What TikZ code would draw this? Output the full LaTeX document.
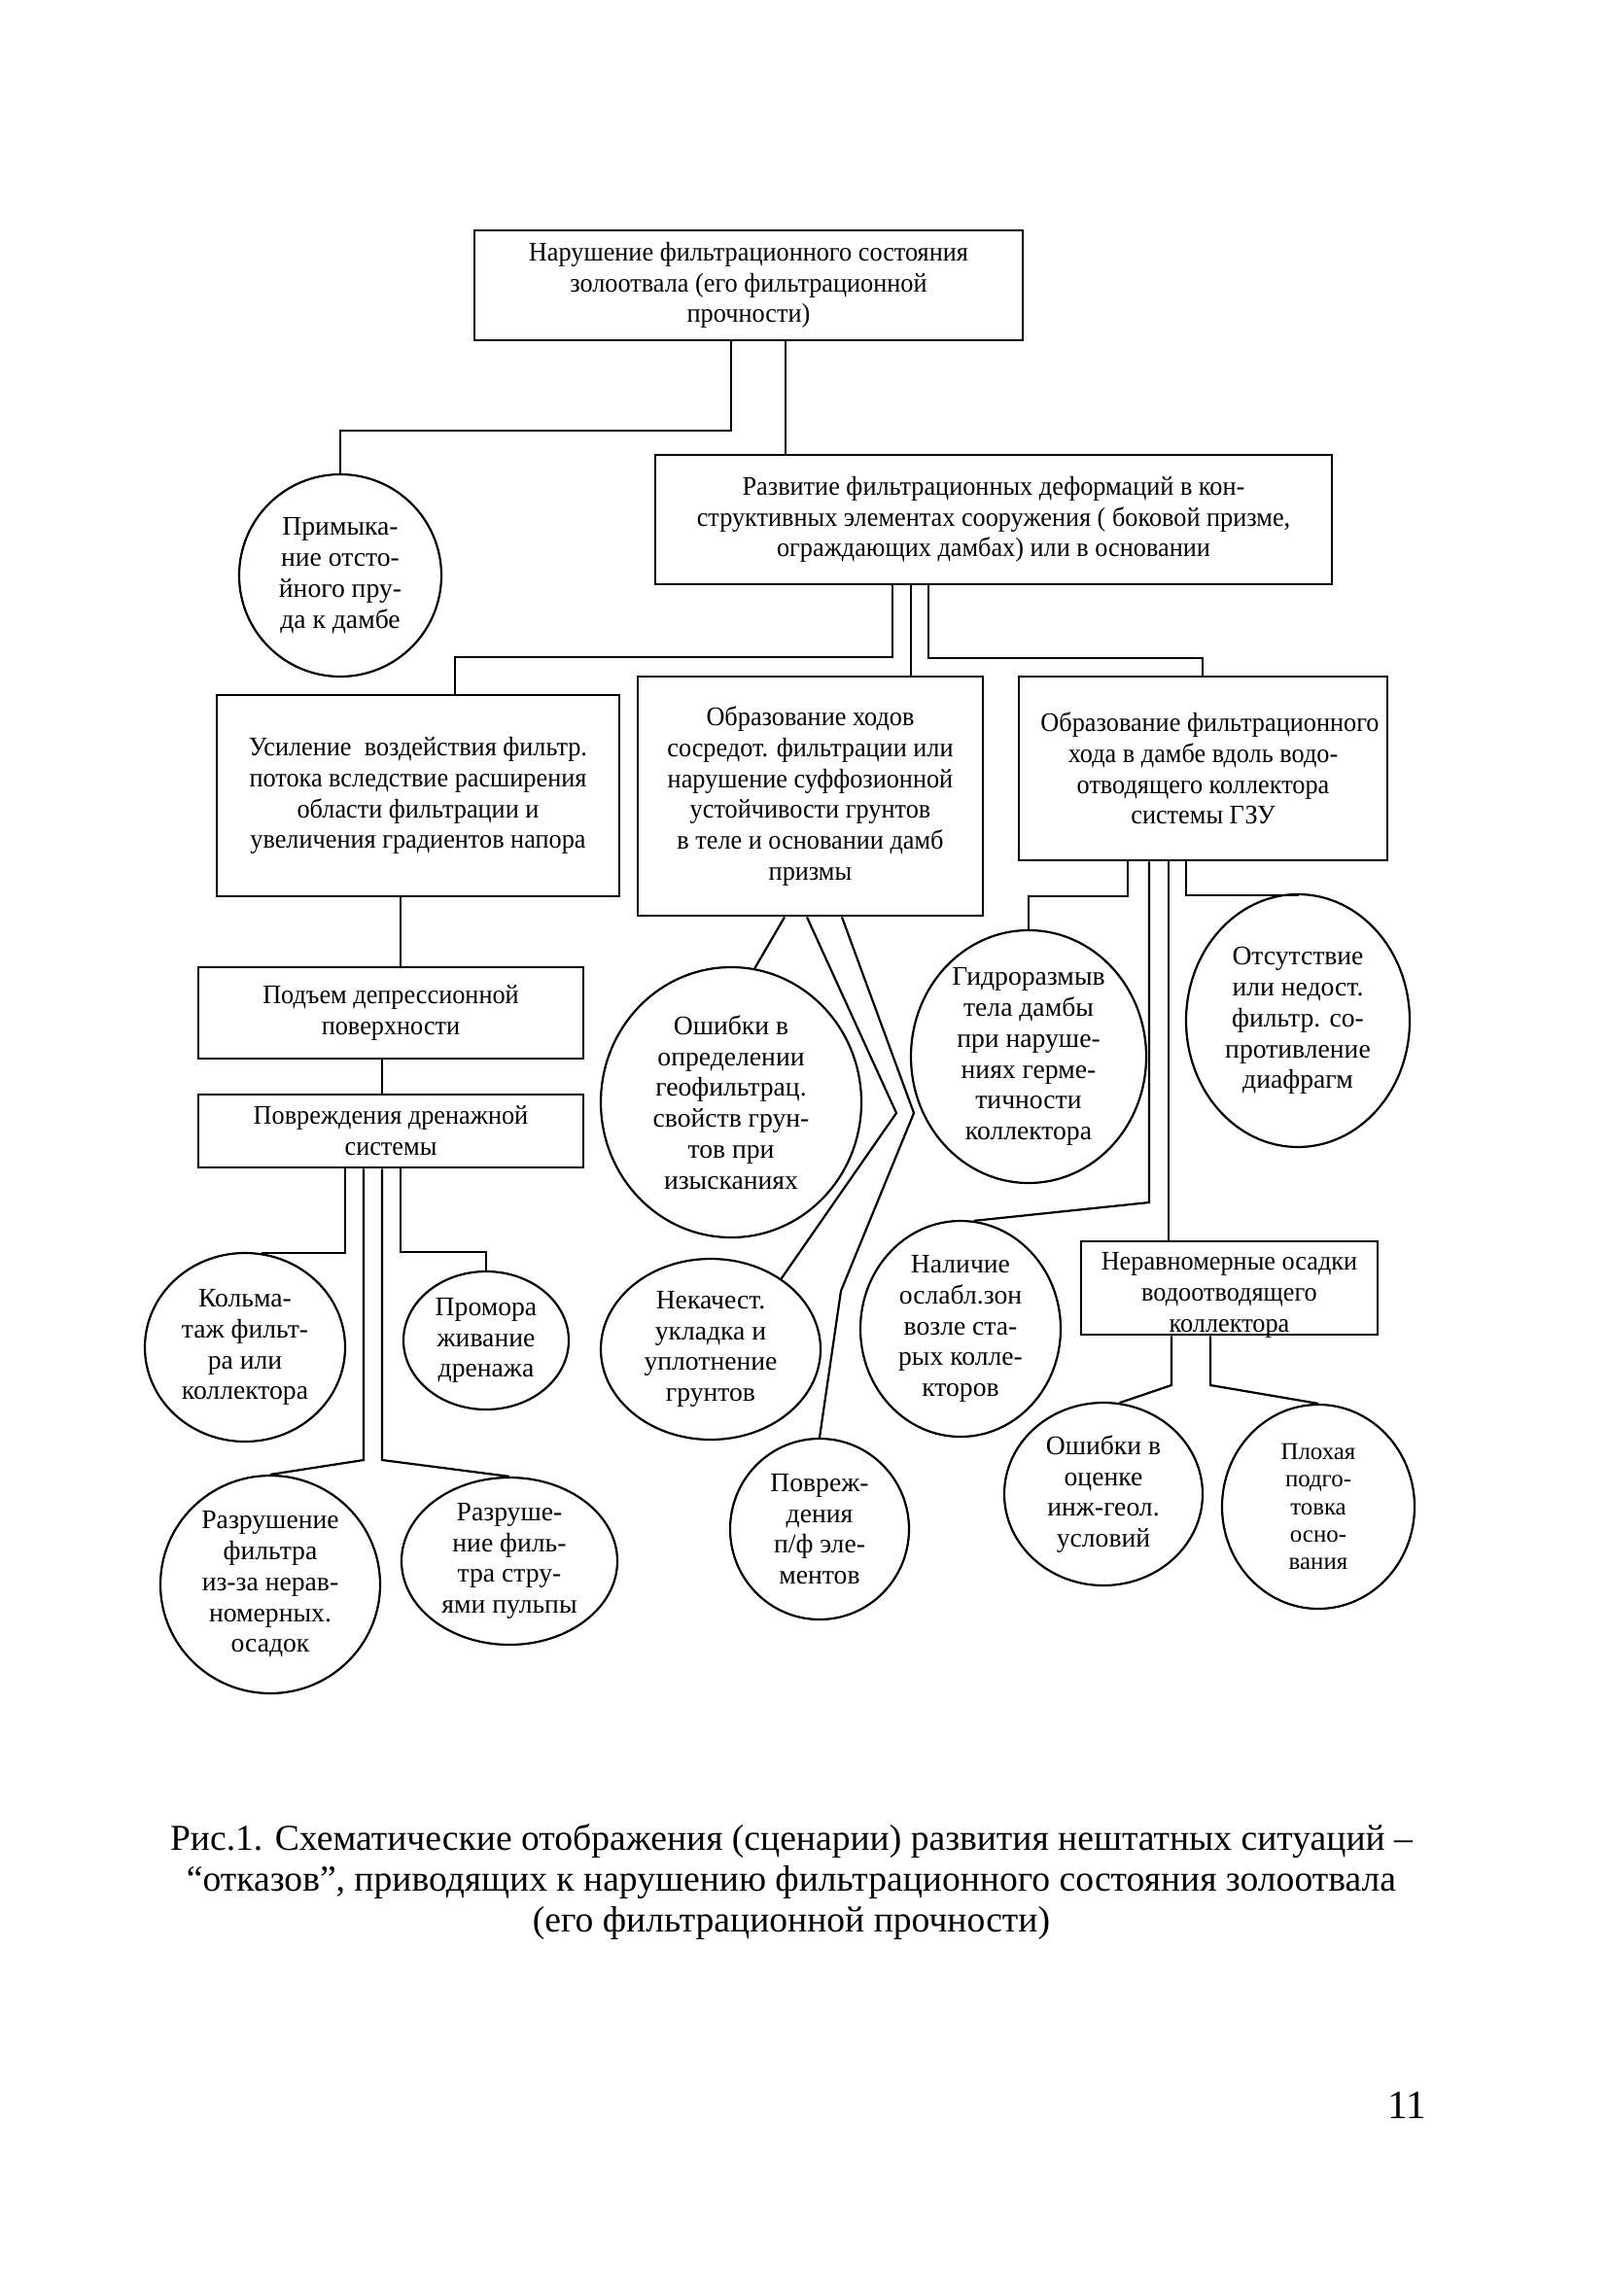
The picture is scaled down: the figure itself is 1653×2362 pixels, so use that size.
\documentclass[tikz,border=0pt]{standalone}
\usepackage{fontspec}
\setmainfont{Liberation Serif}
\newfontfamily\boxfont[FakeStretch=0.95]{Liberation Serif}
\usetikzlibrary{shapes.geometric}
\newdimen\PX \PX=0.012704cm
\begin{document}
\begin{tikzpicture}[x=0.012704cm,y=-0.012704cm,
  every node/.style={inner sep=0pt, align=center, font=\fontsize{10}{11.5}\selectfont},
  bx/.style 2 args={draw, line width=1.05pt, rectangle, minimum width=#1*\PX, minimum height=#2*\PX, font=\boxfont\fontsize{10}{11.5}\selectfont},
  el/.style 2 args={draw, line width=0.8pt, ellipse, inner sep=-40pt, minimum width=2*#1*\PX, minimum height=2*#2*\PX},
  ln/.style={line width=0.8pt}]
\useasboundingbox (0,0) rectangle (1653,2362);
\fill[white] (0,0) rectangle (1653,2362);

% boxes
\node[bx={564}{113}] (b1) at (770,293.5) {Нарушение фильтрационного состояния\\золоотвала (его фильтрационной\\прочности)};
\node[bx={696}{133}] (b2) at (1022,534.5) {Развитие фильтрационных деформаций в кон-\\структивных элементах сооружения ( боковой призме,\\ограждающих дамбах) или в основании};
\node[bx={414}{207}] (b3) at (430,818.5) {Усиление\ \ воздействия фильтр.\\потока вследствие расширения\\области фильтрации и\\увеличения градиентов напора};
\node[bx={355}{246}] (b4) at (833.5,819) {Образование ходов\\сосредот. фильтрации или\\нарушение суффозионной\\устойчивости грунтов\\в теле и основании дамб\\призмы};
\node[bx={379}{189}] (b5) at (1237.5,790.5) {\hspace*{14\PX}Образование фильтрационного\\хода в дамбе вдоль водо-\\отводящего коллектора\\системы ГЗУ};
\node[bx={396}{94}] (b6) at (402,1042) {Подъем депрессионной\\поверхности};
\node[bx={396}{75}] (b7) at (402,1163.5) {Повреждения дренажной\\системы};
\node[bx={305}{96}, inner ysep=-4pt] (b8) at (1264.5,1325) {\rule{0pt}{12pt}Неравномерные осадки\\водоотводящего\\коллектора};

% ellipses
\node[el={104}{104}] (e1) at (350,592) {Примыка-\\ние отсто-\\йного пру-\\да к дамбе};
\node[el={134}{139}] (e2) at (752,1134) {Ошибки в\\определении\\геофильтрац.\\свойств грун-\\тов при\\изысканиях};
\node[el={121}{130}] (e3) at (1058,1087) {Гидроразмыв\\тела дамбы\\при наруше-\\ниях герме-\\тичности\\коллектора};
\node[el={115}{130}] (e4) at (1335,1050) {Отсутствие\\или недост.\\фильтр. со-\\противление\\диафрагм};
\node[el={103}{97}] (e5) at (252,1386) {Кольма-\\таж фильт-\\ра или\\коллектора};
\node[el={85}{71}] (e6) at (500,1379) {Промора\\живание\\дренажа};
\node[el={113}{93}] (e7) at (731,1388) {Некачест.\\укладка и\\уплотнение\\грунтов};
\node[el={103}{111}] (e8) at (988,1367) {Наличие\\ослабл.зон\\возле ста-\\рых колле-\\кторов};
\node[el={113}{112}] (e9) at (278,1630) {Разрушение\\фильтра\\из-за нерав-\\номерных.\\осадок};
\node[el={111}{86}] (e10) at (524,1606) {Разруше-\\ние филь-\\тра стру-\\ями пульпы};
\node[el={92}{93}] (e11) at (843,1573) {Повреж-\\дения\\п/ф эле-\\ментов};
\node[el={102}{94}] (e12) at (1135,1537) {Ошибки в\\оценке\\инж-геол.\\условий};
\node[el={99}{105}, font=\fontsize{9}{10.2}\selectfont] (e13) at (1356,1550) {Плохая\\подго-\\товка\\осно-\\вания};

% connector points
\coordinate (a1) at (752,443);
\coordinate (a2) at (808,0);
\coordinate (a3) at (918,676);
\coordinate (a3b) at (468,676);
\coordinate (a4) at (937,0);
\coordinate (a5) at (955,677);
\coordinate (a5b) at (1237,677);
\coordinate (a6) at (412,0);
\coordinate (a7) at (393,0);
\coordinate (a8) at (355,0);
\coordinate (a9) at (412,1288);
\coordinate (a10) at (374,1502);
\coordinate (a11) at (393,1502);
\coordinate (a12) at (807,0);
\coordinate (a13) at (830,0);
\coordinate (a13b) at (922,1145);
\coordinate (a14) at (866,0);
\coordinate (a14b) at (940,1145);
\coordinate (a14c) at (865,1328);
\coordinate (a15) at (1160,922);
\coordinate (a16) at (1182,1237);
\coordinate (a17) at (1202,0);
\coordinate (a18) at (1220,921);
\coordinate (a19) at (1205,1425);
\coordinate (a20) at (1245,1425);

% connectors
\draw[ln] (b1.south -| a1) -- (a1) -| (e1.north);
\draw[ln] (b1.south -| a2) -- (b2.north -| a2);
\draw[ln] (b2.south -| a3) -- (a3) -- (a3b) -- (b3.north -| a3b);
\draw[ln] (b2.south -| a4) -- (b4.north -| a4);
\draw[ln] (b2.south -| a5) -- (a5) -- (a5b) -- (b5.north -| a5b);
\draw[ln] (b3.south -| a6) -- (b6.north -| a6);
\draw[ln] (b6.south -| a7) -- (b7.north -| a7);
\draw[ln] (b7.south -| a8) |- (e5.80);
\draw[ln] (b7.south -| a9) -- (a9) -| (e6.north);
\draw[ln] (b7.south -| a10) -- (a10) -- (e9.north);
\draw[ln] (b7.south -| a11) -- (a11) -- (e10.north);
\draw[ln] (b4.south -| a12) -- (e2.80);
\draw[ln] (b4.south -| a13) -- (a13b) -- (e7.45);
\draw[ln] (b4.south -| a14) -- (a14b) -- (a14c) -- (e11.north);
\draw[ln] (b5.south -| a15) -- (a15) -| (e3.north);
\draw[ln] (b5.south -| a16) -- (a16) -- (e8.83);
\draw[ln] (b5.south -| a17) -- (b8.north -| a17);
\draw[ln] (b5.south -| a18) -- (a18) -| (e4.north);
\draw[ln] (b8.south -| a19) -- (a19) -- (e12.80);
\draw[ln] (b8.south -| a20) -- (a20) -- (e13.north);

% caption and page number
\node[font=\fontsize{13.6}{15.2}\selectfont] (cap) at (814,1936) {Рис.1. Схематические отображения (сценарии) развития нештатных ситуаций –\\“отказов”, приводящих к нарушению фильтрационного состояния золоотвала\\(его фильтрационной прочности)};
\node[font=\fontsize{15}{17}\selectfont] (pg) at (1447,2166) {11};
\end{tikzpicture}
\end{document}
